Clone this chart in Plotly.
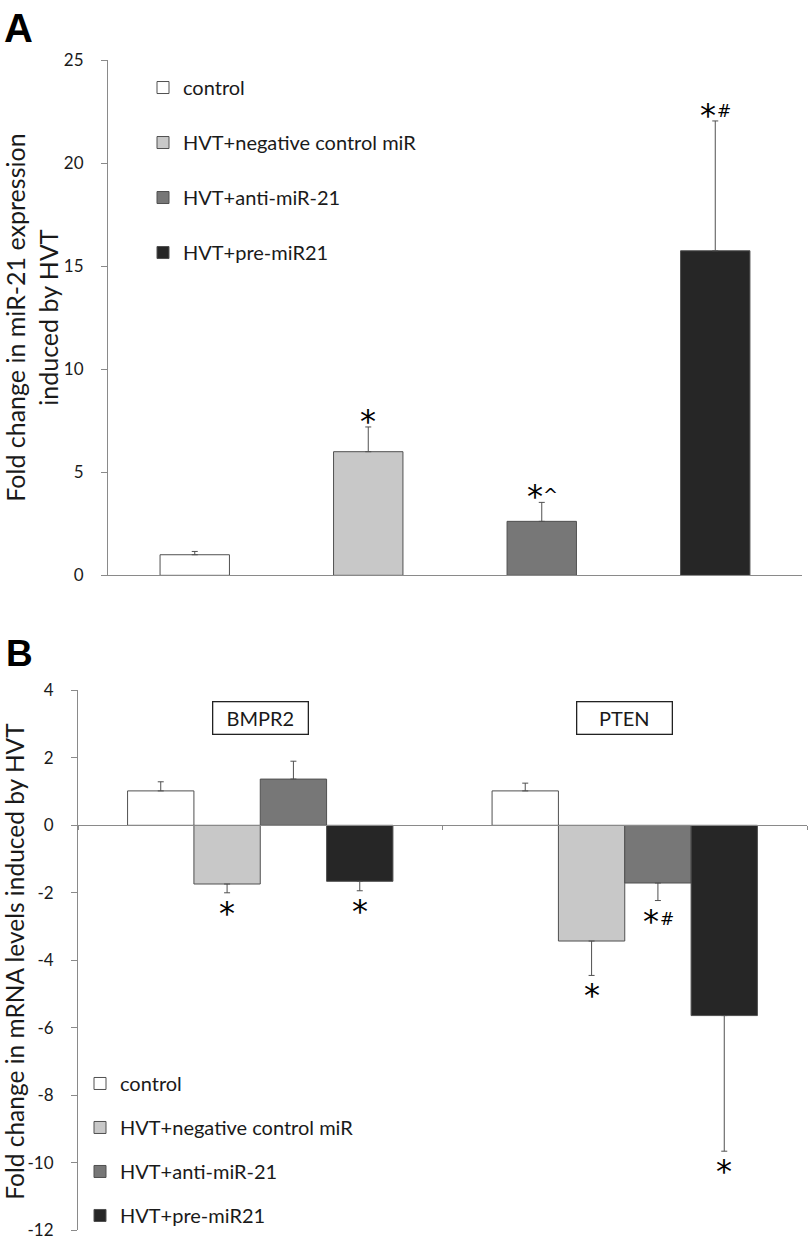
import plotly.graph_objects as go

# ---------------- data ----------------
groups = ["control", "HVT+negative control miR", "HVT+anti-miR-21", "HVT+pre-miR21"]
colors = ["#ffffff", "#c8c8c8", "#777777", "#262626"]

# Panel A: fold change in miR-21 expression
a_values = [1.0, 6.0, 2.62, 15.75]
a_errors = [0.16, 1.2, 0.92, 6.3]
a_marks = ["", "*", "*^", "*#"]

# Panel B: fold change in mRNA levels
genes = ["BMPR2", "PTEN"]
b_control = [1.02, 1.02]
b_negctrl = [-1.74, -3.43]
b_anti = [1.37, -1.71]
b_pre = [-1.66, -5.64]
b_control_err = [0.27, 0.23]
b_negctrl_err = [0.26, 1.02]
b_anti_err = [0.53, 0.52]
b_pre_err = [0.28, 4.02]
b_control_marks = ["", ""]
b_negctrl_marks = ["*", "*"]
b_anti_marks = ["", "*#"]
b_pre_marks = ["*", "*"]

a_ticks = [0, 5, 10, 15, 20, 25]
b_ticks = [-12, -10, -8, -6, -4, -2, 0, 2, 4]

# ---------------- layout geometry ----------------
W, H = 809, 1248
FONT = "Lato"
MARKFONT = "DejaVu Sans"
TXT = "#1a1a1a"
AX = "#8a8a8a"

ax_dom_x = [108 / W, 802 / W]
ax_dom_y = [1 - 574 / H, 1 - 50 / H]
bx_dom_x = [78 / W, 807 / W]
bx_dom_y = [1 - 1240 / H, 1 - 691 / H]
b_range = [-12, 4]
b_zero_pos = bx_dom_y[0] + (0 - b_range[0]) / (b_range[1] - b_range[0]) * (bx_dom_y[1] - bx_dom_y[0])

fig = go.Figure()

# Panel A bars (one trace per treatment group)
for i, g in enumerate(groups):
    fig.add_trace(go.Bar(
        x=[g], y=[a_values[i]], name=g,
        marker=dict(color=colors[i], line=dict(color="#505050", width=1)),
        width=0.4, offset=-0.2,
        error_y=dict(type="data", symmetric=False, array=[a_errors[i]], arrayminus=[0],
                     color="#505050", thickness=1, width=3),
        xaxis="x", yaxis="y", legend="legend", legendgroup="a" + str(i),
        showlegend=True,
    ))

# Panel B bars
b_series = [b_control, b_negctrl, b_anti, b_pre]
b_errs = [b_control_err, b_negctrl_err, b_anti_err, b_pre_err]
b_marks = [b_control_marks, b_negctrl_marks, b_anti_marks, b_pre_marks]
bw = 0.182
for i, g in enumerate(groups):
    vals = b_series[i]
    errs = b_errs[i]
    plus = [e if v >= 0 else 0 for v, e in zip(vals, errs)]
    minus = [e if v < 0 else 0 for v, e in zip(vals, errs)]
    fig.add_trace(go.Bar(
        x=genes, y=vals, name=g,
        marker=dict(color=colors[i], line=dict(color="#505050", width=1)),
        width=bw, offset=-2 * bw + i * bw,
        error_y=dict(type="data", symmetric=False, array=plus, arrayminus=minus,
                     color="#505050", thickness=1, width=3),
        xaxis="x2", yaxis="y2", legend="legend2", legendgroup="b" + str(i),
        showlegend=True,
    ))

annotations = []


def add_mark(m, x, y, xref, yref, above):
    """Significance mark: a large asterisk plus an optional smaller symbol."""
    if not m:
        return
    star, rest = m[0], m[1:]
    sx = -7 if rest else 0
    annotations.append(dict(
        x=x, y=y, xref=xref, yref=yref, text=star, showarrow=False,
        yanchor="middle", xanchor="center", xshift=sx,
        yshift=6 if above else -20,
        font=dict(family=MARKFONT, size=32, color="#000"),
    ))
    if rest:
        sz = 17 if rest == "#" else 18
        annotations.append(dict(
            x=x, y=y, xref=xref, yref=yref, text=rest, showarrow=False,
            yanchor="middle", xanchor="center", xshift=9,
            yshift=(10 if rest == "#" else 8) if above else -18,
            font=dict(family=MARKFONT, size=sz, color="#000"),
        ))


# Significance marks panel A
for i, g in enumerate(groups):
    add_mark(a_marks[i], g, a_values[i] + a_errors[i], "x", "y", True)

# Significance marks panel B
for i in range(4):
    for j, gene in enumerate(genes):
        v = b_series[i][j]
        e = b_errs[i][j]
        xpos = j - 2 * bw + i * bw + bw / 2
        add_mark(b_marks[i][j], xpos, v - e, "x2", "y2", False)

# Gene labels (boxed)
for j, gene in enumerate(genes):
    annotations.append(dict(
        x=gene, y=3.18, xref="x2", yref="y2", text=gene, showarrow=False,
        font=dict(family=FONT, size=20, color=TXT),
        bordercolor="#222", borderwidth=1.3, borderpad=3,
        width=88, height=25, bgcolor="white",
    ))

# Panel letters
annotations.append(dict(x=2 / W, y=1 - 17 / H, xref="paper", yref="paper", text="<b>A</b>",
                        showarrow=False, xanchor="left", yanchor="middle",
                        font=dict(family="Liberation Sans", size=40, color="#000")))
annotations.append(dict(x=4 / W, y=1 - 654 / H, xref="paper", yref="paper", text="<b>B</b>",
                        showarrow=False, xanchor="left", yanchor="middle",
                        font=dict(family="Liberation Sans", size=37, color="#000")))

# Y-axis titles
annotations.append(dict(x=32 / W, y=1 - 312 / H, xref="paper", yref="paper",
                        text="Fold change in miR-21 expression<br>induced by HVT",
                        textangle=-90, showarrow=False, xanchor="center", yanchor="middle",
                        font=dict(family=FONT, size=25, color=TXT)))
annotations.append(dict(x=15 / W, y=1 - 967 / H, xref="paper", yref="paper",
                        text="Fold change in mRNA levels induced by HVT",
                        textangle=-90, showarrow=False, xanchor="center", yanchor="middle",
                        font=dict(family=FONT, size=24.5, color=TXT)))

fig.update_layout(
    width=W, height=H,
    margin=dict(l=0, r=0, t=0, b=0),
    paper_bgcolor="white", plot_bgcolor="white",
    barmode="overlay",
    font=dict(family=FONT, color=TXT),
    xaxis=dict(domain=ax_dom_x, anchor="y", categoryorder="array", categoryarray=groups,
               range=[-0.5, 3.5], showticklabels=False, ticks="", showline=True,
               linecolor=AX, linewidth=1, showgrid=False, zeroline=False, fixedrange=True),
    yaxis=dict(domain=ax_dom_y, anchor="x", range=[0, 25], tickvals=a_ticks,
               ticktext=[str(t) for t in a_ticks],
               ticks="outside", ticklen=6, tickcolor=AX, showline=True, linecolor=AX,
               linewidth=1, showgrid=False, zeroline=False,
               tickfont=dict(family=FONT, size=17, color=TXT), ticklabelstandoff=14),
    xaxis2=dict(domain=bx_dom_x, anchor="free", position=b_zero_pos,
                categoryorder="array", categoryarray=genes,
                range=[-0.5, 1.5], showticklabels=False, ticks="outside", ticklen=4,
                tickcolor=AX, tickson="boundaries", showline=True, linecolor=AX,
                linewidth=1, showgrid=False, zeroline=False),
    yaxis2=dict(domain=bx_dom_y, anchor="x2", range=b_range, tickvals=b_ticks,
                ticktext=[str(t) for t in b_ticks],
                ticks="outside", ticklen=6, tickcolor=AX, showline=True, linecolor=AX,
                linewidth=1, showgrid=False, zeroline=False,
                tickfont=dict(family=FONT, size=17, color=TXT), ticklabelstandoff=14),
    legend=dict(x=143 / W, y=1 - 58 / H, xanchor="left", yanchor="top",
                font=dict(family=FONT, size=20, color=TXT), tracegroupgap=26,
                bgcolor="rgba(0,0,0,0)", itemwidth=30, traceorder="grouped"),
    legend2=dict(x=80 / W, y=1 - 1071 / H, xanchor="left", yanchor="top",
                 font=dict(family=FONT, size=20, color=TXT), tracegroupgap=15,
                 bgcolor="rgba(0,0,0,0)", itemwidth=30, traceorder="grouped"),
    annotations=annotations,
    showlegend=True,
)

fig.write_html("out.html", post_script="document.body.style.margin='0';",
               config={"displayModeBar": False})
